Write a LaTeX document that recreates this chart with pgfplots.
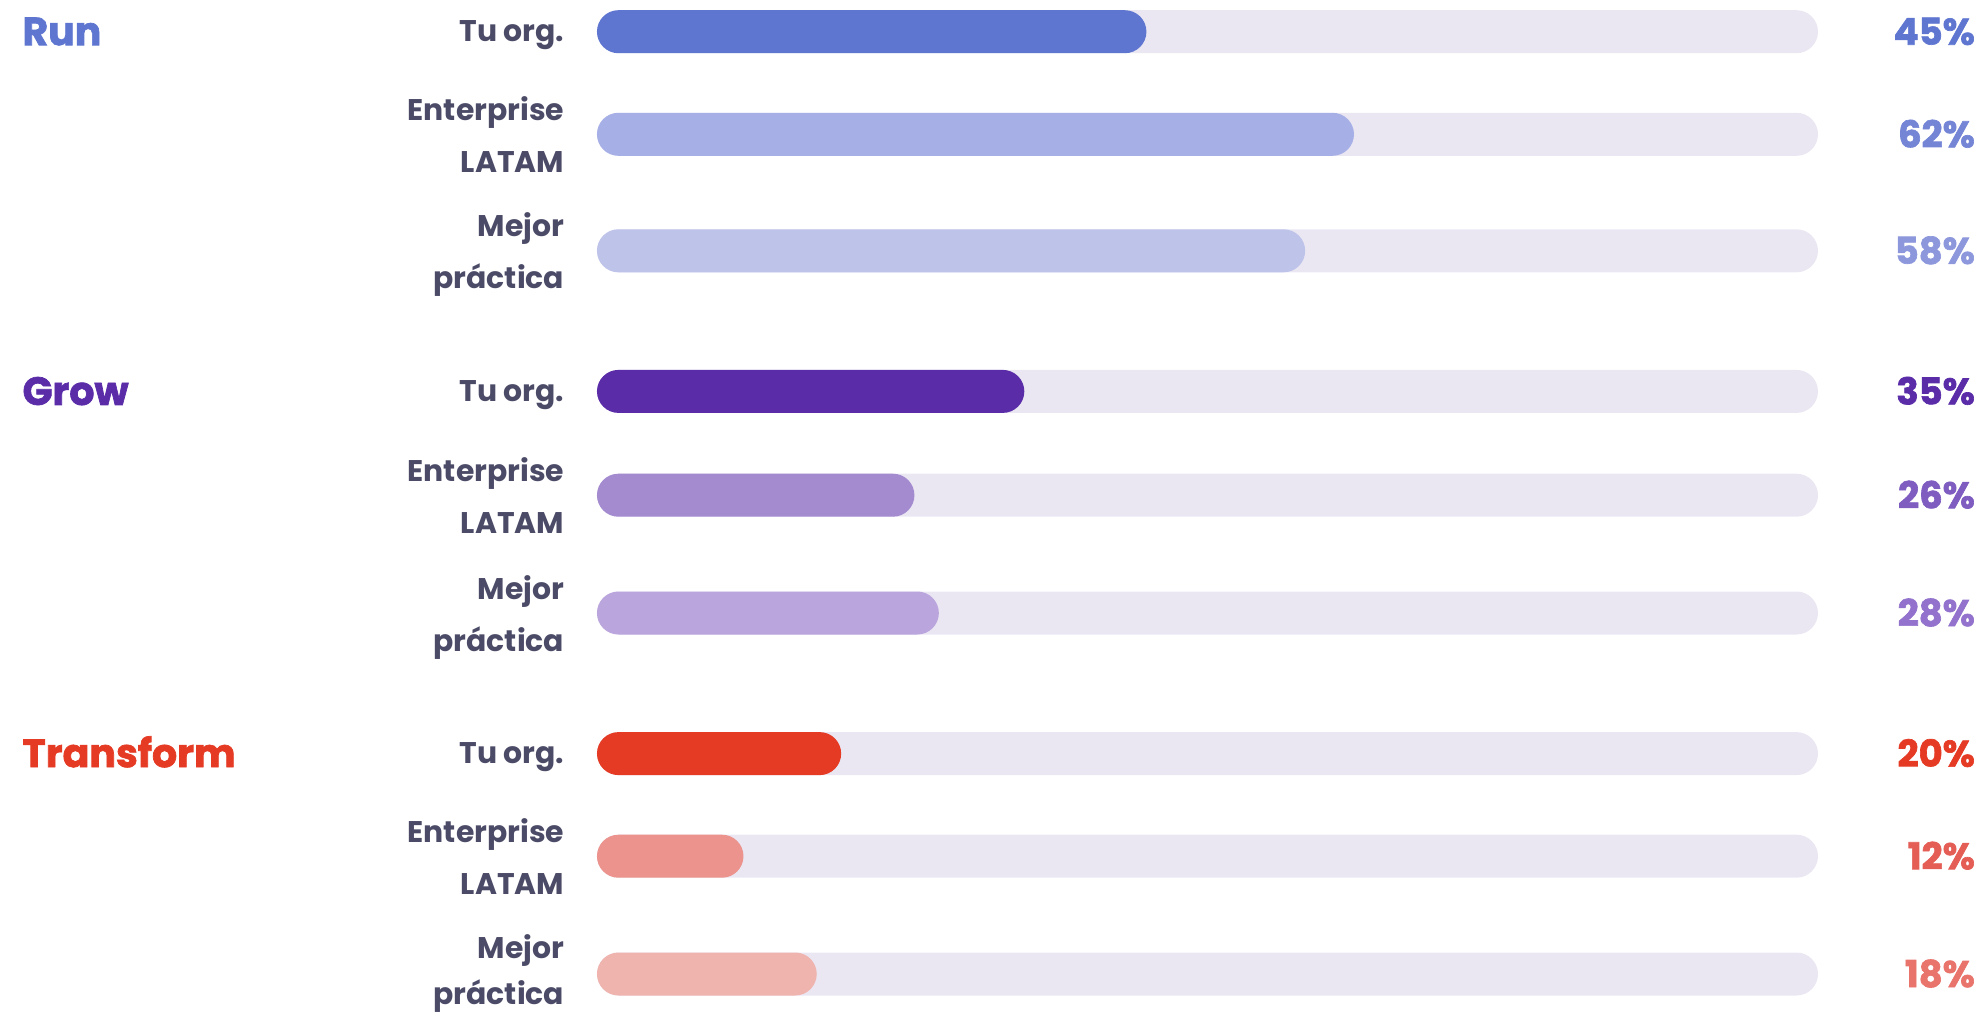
\documentclass[border=0pt]{standalone}
\usepackage{pgfplots}
\pgfplotsset{compat=1.18}
\usepackage{fontspec}
\setmainfont{Poppins}
\newfontfamily\heavy{Poppins}[BoldFeatures={FakeBold=1.8}]
\definecolor{track}{HTML}{EAE7F3}
\definecolor{labelc}{HTML}{4B4B68}
\definecolor{runA}{HTML}{5F76D1}
\definecolor{runB}{HTML}{A6B0E6}
\definecolor{runC}{HTML}{BEC3EA}
\definecolor{runBt}{HTML}{7585D6}
\definecolor{runCt}{HTML}{8C97DC}
\definecolor{growA}{HTML}{5A2CA8}
\definecolor{growB}{HTML}{A48BD0}
\definecolor{growC}{HTML}{BBA5DD}
\definecolor{growBt}{HTML}{7E5CC0}
\definecolor{growCt}{HTML}{9272CC}
\definecolor{trA}{HTML}{E53A24}
\definecolor{trB}{HTML}{EB938C}
\definecolor{trC}{HTML}{F0B4AF}
\definecolor{trBt}{HTML}{E45E56}
\definecolor{trCt}{HTML}{E8746C}
\tikzset{
  lab/.style={anchor=base east, inner sep=0pt, text depth=0pt, text=labelc, font=\fontsize{8.5}{10}\selectfont\bfseries},
  head/.style={anchor=base west, inner sep=0pt, text depth=0pt, font=\fontsize{11.2}{13}\selectfont\heavy\bfseries},
  pct/.style={anchor=base east, inner sep=0pt, text depth=0pt, font=\fontsize{10.5}{12}\selectfont\heavy\bfseries},
}
\begin{document}
\begin{tikzpicture}
\begin{axis}[
  scale only axis, width=198.6mm, height=101.3mm,
  xmin=-48.89, xmax=113.76, ymin=0, ymax=1013, y dir=reverse,
  hide axis, clip=false,
  xbar, bar width=4.3mm, bar shift=0pt,
  every axis plot/.append style={draw=none, rounded corners=2.15mm},
]
% background tracks
\addplot[fill=track] coordinates {(100,31.7) (100,134.3) (100,250.8) (100,391.4) (100,495.2) (100,613) (100,753.6) (100,856.2) (100,974)};
% Run
\addplot[fill=runA] coordinates {(45,31.7)};
\addplot[fill=runB] coordinates {(62,134.3)};
\addplot[fill=runC] coordinates {(58,250.8)};
% Grow
\addplot[fill=growA] coordinates {(35,391.4)};
\addplot[fill=growB] coordinates {(26,495.2)};
\addplot[fill=growC] coordinates {(28,613)};
% Transform
\addplot[fill=trA] coordinates {(20,753.6)};
\addplot[fill=trB] coordinates {(12,856.2)};
\addplot[fill=trC] coordinates {(18,974)};

% fixed picture frame
\path (rel axis cs:0,0) rectangle (rel axis cs:1,1);

% group headings
\node[head, text=runA] at (axis cs:-47.1,45.2) {Run};
\node[head, text=growA] at (axis cs:-47.1,404.9) {Grow};
\node[head, text=trA] at (axis cs:-47.1,767.1) {Transform};

% category labels
\node[lab] at (axis cs:-2.62,41.7) {Tu org.};
\node[lab] at (axis cs:-2.62,401.4) {Tu org.};
\node[lab] at (axis cs:-2.62,763.6) {Tu org.};
\node[lab] at (axis cs:-2.62,120.3) {Enterprise};
\node[lab] at (axis cs:-2.62,172.3) {LATAM};
\node[lab] at (axis cs:-2.62,481.2) {Enterprise};
\node[lab] at (axis cs:-2.62,533.2) {LATAM};
\node[lab] at (axis cs:-2.62,842.2) {Enterprise};
\node[lab] at (axis cs:-2.62,894.2) {LATAM};
\node[lab] at (axis cs:-2.62,236.8) {Mejor};
\node[lab] at (axis cs:-2.62,288.8) {práctica};
\node[lab] at (axis cs:-2.62,599) {Mejor};
\node[lab] at (axis cs:-2.62,651) {práctica};
\node[lab] at (axis cs:-2.62,958) {Mejor};
\node[lab] at (axis cs:-2.62,1004) {práctica};

% percentages
\node[pct, text=runA] at (axis cs:112.9,44.7) {45\%};
\node[pct, text=runBt] at (axis cs:112.9,147.3) {62\%};
\node[pct, text=runCt] at (axis cs:112.9,263.8) {58\%};
\node[pct, text=growA] at (axis cs:112.9,404.4) {35\%};
\node[pct, text=growBt] at (axis cs:112.9,508.2) {26\%};
\node[pct, text=growCt] at (axis cs:112.9,626) {28\%};
\node[pct, text=trA] at (axis cs:112.9,766.6) {20\%};
\node[pct, text=trBt] at (axis cs:112.9,869.2) {12\%};
\node[pct, text=trCt] at (axis cs:112.9,987) {18\%};
\end{axis}
\end{tikzpicture}
\end{document}
